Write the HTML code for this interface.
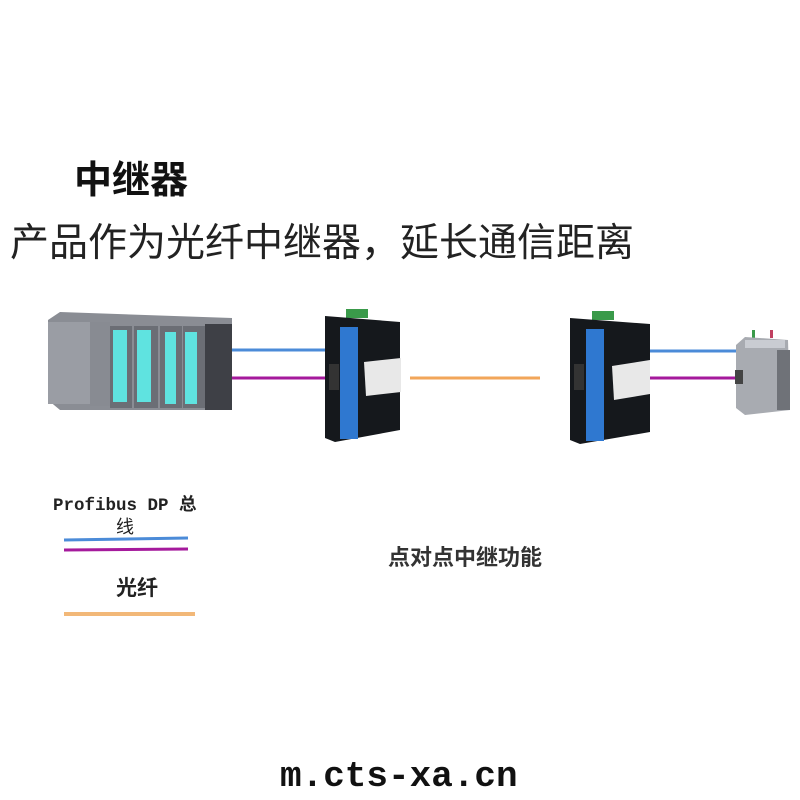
<!DOCTYPE html>
<html><head><meta charset="utf-8"><style>
html,body{margin:0;padding:0;background:#fff;}
svg{display:block}
</style></head><body>
<svg width="800" height="800" viewBox="0 0 800 800" xmlns="http://www.w3.org/2000/svg">
<rect width="800" height="800" fill="#fff"/>
<text x="74" y="193" font-family="'Liberation Sans','Noto Sans CJK SC',sans-serif" font-size="38" font-weight="bold" fill="#111">中继器</text>
<text x="10" y="256" font-family="'Liberation Sans','Noto Sans CJK SC',sans-serif" font-size="39" fill="#222">产品作为光纤中继器，延长通信距离</text>

<g>
<polygon points="48,320 60,312 232,318 232,410 60,410 48,400" fill="#8a8d94"/>
<rect x="48" y="322" width="42" height="82" fill="#9a9da4"/>
<rect x="90" y="322" width="20" height="84" fill="#888b92"/>
<rect x="110" y="326" width="22" height="82" fill="#6b6e75"/>
<rect x="113" y="330" width="14" height="72" fill="#5fe3e0"/>
<rect x="134" y="326" width="24" height="82" fill="#6b6e75"/>
<rect x="137" y="330" width="14" height="72" fill="#5fe3e0"/>
<rect x="160" y="326" width="22" height="82" fill="#6b6e75"/>
<rect x="165" y="332" width="11" height="72" fill="#5fe3e0"/>
<rect x="183" y="326" width="22" height="82" fill="#6b6e75"/>
<rect x="185" y="332" width="12" height="72" fill="#5fe3e0"/>
<rect x="205" y="324" width="27" height="86" fill="#3e4046"/>
</g>

<line x1="232" y1="350" x2="326" y2="350" stroke="#4b8bd8" stroke-width="3"/>
<line x1="232" y1="378" x2="326" y2="378" stroke="#a51a9c" stroke-width="3"/>

<g>
<rect x="346" y="309" width="22" height="9" fill="#3a9a4a"/>
<polygon points="325,316 400,322 400,430 335,442 325,438" fill="#15181c"/>
<rect x="340" y="327" width="18" height="112" fill="#2f78d0"/>
<rect x="329" y="364" width="10" height="26" fill="#333"/>
<polygon points="364,362 401,358 401,392 366,396" fill="#e8e8e8"/>
</g>

<line x1="410" y1="378" x2="540" y2="378" stroke="#f2a65a" stroke-width="3"/>

<g>
<rect x="592" y="311" width="22" height="9" fill="#3a9a4a"/>
<polygon points="570,318 650,324 650,432 580,444 570,440" fill="#15181c"/>
<rect x="586" y="329" width="18" height="112" fill="#2f78d0"/>
<rect x="574" y="364" width="10" height="26" fill="#333"/>
<polygon points="612,366 650,360 650,394 614,400" fill="#e8e8e8"/>
</g>

<line x1="650" y1="351" x2="738" y2="351" stroke="#4b8bd8" stroke-width="3"/>
<line x1="650" y1="378" x2="735" y2="378" stroke="#a51a9c" stroke-width="3"/>

<g>
<rect x="752" y="330" width="3" height="8" fill="#3a9a4a"/>
<rect x="770" y="330" width="3" height="8" fill="#c04060"/>
<polygon points="736,345 745,337 788,340 790,410 745,415 736,408" fill="#a8abb1"/>
<rect x="745" y="340" width="40" height="8" fill="#c9ccd2"/>
<rect x="735" y="370" width="8" height="14" fill="#444"/>
<rect x="777" y="350" width="13" height="60" fill="#6f7278"/>
</g>

<text x="53" y="510" font-family="'Liberation Mono','Noto Sans CJK SC',monospace" font-size="17.5" font-weight="bold" fill="#222">Profibus DP 总</text>
<text x="116" y="533" font-family="'Liberation Sans','Noto Sans CJK SC',sans-serif" font-size="18" fill="#222">线</text>
<line x1="64" y1="540" x2="188" y2="538" stroke="#4b8bd8" stroke-width="3"/>
<line x1="64" y1="550" x2="188" y2="549" stroke="#a51a9c" stroke-width="3"/>
<text x="116" y="595" font-family="'Liberation Sans','Noto Sans CJK SC',sans-serif" font-size="21" font-weight="bold" fill="#222">光纤</text>
<line x1="64" y1="614" x2="195" y2="614" stroke="#f2b878" stroke-width="4"/>

<text x="388" y="565" font-family="'Liberation Sans','Noto Sans CJK SC',sans-serif" font-size="22" font-weight="bold" fill="#333">点对点中继功能</text>

<text x="280" y="786" font-family="'Liberation Mono',monospace" font-size="36" font-weight="bold" fill="#111">m.cts-xa.cn</text>
</svg>
</body></html>
